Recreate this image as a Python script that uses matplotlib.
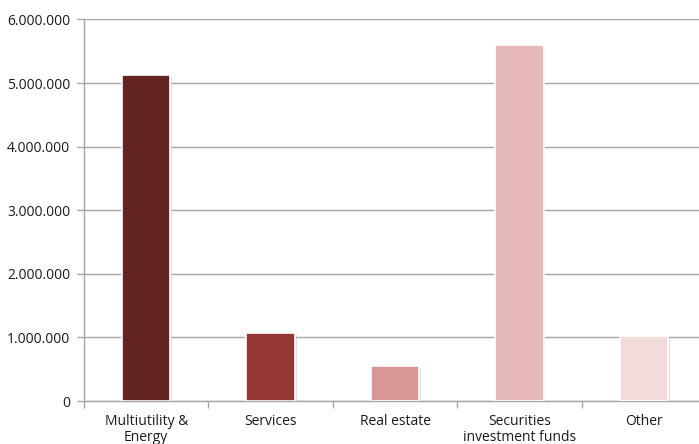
import matplotlib
matplotlib.use("Agg")
import matplotlib.pyplot as plt
from matplotlib.ticker import FuncFormatter, FixedLocator
import matplotlib.patheffects as pe
import numpy as np

categories = ["Multiutility &\nEnergy", "Services", "Real estate",
              "Securities\ninvestment funds", "Other"]
values = [5120000, 1063000, 548000, 5605000, 1025000]
colors = ["#632423", "#953735", "#D99694", "#E6B9B8", "#F2DCDB"]
yticks = [0, 1000000, 2000000, 3000000, 4000000, 5000000, 6000000]

plt.rcParams["font.family"] = ["Open Sans", "DejaVu Sans"]

fig = plt.figure(figsize=(6.99, 4.44), dpi=100)
ax = fig.add_axes([84 / 699, 43 / 444, 622 / 699, 381.5 / 444])

x = np.arange(len(categories))
bars = ax.bar(x, values, width=0.39, color=colors, edgecolor="white",
              linewidth=1.2, zorder=3)
for b in bars:
    b.set_path_effects([pe.SimplePatchShadow(offset=(1.2, -1.2),
                                             shadow_rgbFace="#c8c8c8", alpha=0.6),
                        pe.Normal()])

ax.set_xlim(-0.5, len(categories) - 0.5)
ax.set_ylim(0, 6000000)
ax.set_yticks(yticks)
ax.yaxis.set_major_formatter(FuncFormatter(lambda v, p: f"{int(v):,}".replace(",", ".")))
ax.grid(axis="y", color="#A6A6A6", linewidth=1.0, zorder=0)

ax.set_xticks(x)
ax.set_xticklabels(categories, linespacing=1.15)
ax.xaxis.set_minor_locator(FixedLocator(np.arange(len(categories) + 1) - 0.5))
ax.tick_params(axis="x", which="major", length=0, pad=9, labelsize=10, colors="#1a1a1a")
ax.tick_params(axis="x", which="minor", length=5, color="#A6A6A6", width=1)
ax.tick_params(axis="y", length=5, color="#A6A6A6", width=1, labelsize=10,
               labelcolor="#1a1a1a", pad=5)

for s in ["top", "right"]:
    ax.spines[s].set_visible(False)
for s in ["left", "bottom"]:
    ax.spines[s].set_color("#A6A6A6")
    ax.spines[s].set_linewidth(1.0)

fig.savefig("out.png", dpi=100)
